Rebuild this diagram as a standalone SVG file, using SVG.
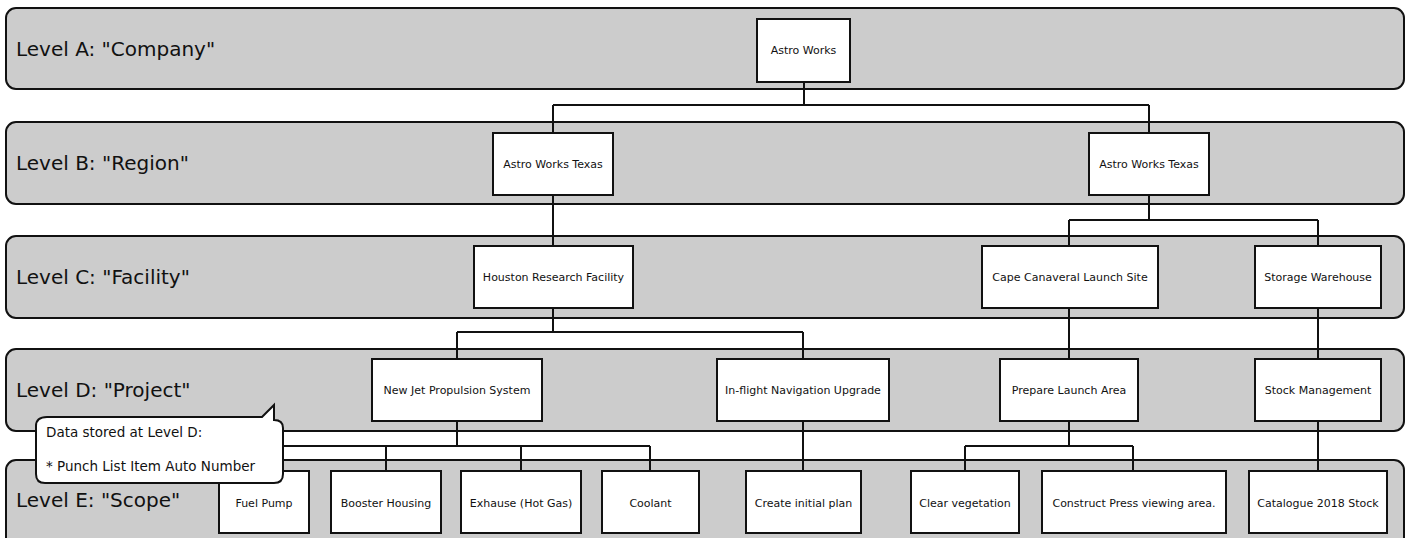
<svg xmlns="http://www.w3.org/2000/svg" width="1409" height="538" viewBox="0 0 1409 538">
<style>
.lane{fill:#cccccc;stroke:#111;stroke-width:2}
.lbl{font-family:"DejaVu Sans","Liberation Sans",sans-serif;font-size:20px;fill:#111}
.box{fill:#fff;stroke:#111;stroke-width:2}
.t{font-family:"DejaVu Sans","Liberation Sans",sans-serif;font-size:11px;fill:#111;text-anchor:middle}
.c{fill:none;stroke:#111;stroke-width:2}
.note{fill:#fff;stroke:#111;stroke-width:2}
.nt{font-family:"DejaVu Sans","Liberation Sans",sans-serif;font-size:13.5px;fill:#111}
</style>
<rect width="1409" height="538" fill="#fff"/>
<g id="lanes">
<rect class="lane" x="6" y="8" width="1398" height="81" rx="10"/>
<rect class="lane" x="6" y="122" width="1398" height="82" rx="10"/>
<rect class="lane" x="6" y="236" width="1398" height="82" rx="10"/>
<rect class="lane" x="6" y="349" width="1398" height="82" rx="10"/>
<rect class="lane" x="6" y="460" width="1398" height="90" rx="10"/>
<text class="lbl" x="16" y="56">Level A: "Company"</text>
<text class="lbl" x="16" y="170">Level B: "Region"</text>
<text class="lbl" x="16" y="284">Level C: "Facility"</text>
<text class="lbl" x="16" y="397">Level D: "Project"</text>
<text class="lbl" x="16" y="507">Level E: "Scope"</text>
</g>
<g id="connectors">
<path class="c" d="M804 82V105M553 105H1149M553 105V133M1149 105V133"/>
<path class="c" d="M553 195V246"/>
<path class="c" d="M1149 195V220M1069 220H1318M1069 220V246M1318 220V246"/>
<path class="c" d="M553 308V332M457 332H803M457 332V359M803 332V359"/>
<path class="c" d="M1069 308V359"/>
<path class="c" d="M1318 308V359"/>
<path class="c" d="M457 421V446M264 446H650M264 446V471M386 446V471M521 446V471M650 446V471"/>
<path class="c" d="M803 421V471"/>
<path class="c" d="M1069 421V446M965 446H1133M965 446V471M1133 446V471"/>
<path class="c" d="M1318 421V471"/>
</g>
<g id="n-astro"><rect class="box" x="757" y="19" width="93" height="63"/><text class="t" x="803.5" y="54">Astro Works</text></g>
<g id="n-awt1"><rect class="box" x="493" y="133" width="120" height="62"/><text class="t" x="553" y="168">Astro Works Texas</text></g>
<g id="n-awt2"><rect class="box" x="1089" y="133" width="120" height="62"/><text class="t" x="1149" y="168">Astro Works Texas</text></g>
<g id="n-houston"><rect class="box" x="474" y="246" width="159" height="62"/><text class="t" x="553.5" y="281">Houston Research Facility</text></g>
<g id="n-cape"><rect class="box" x="982" y="246" width="176" height="62"/><text class="t" x="1070" y="281">Cape Canaveral Launch Site</text></g>
<g id="n-storage"><rect class="box" x="1255" y="246" width="126" height="62"/><text class="t" x="1318" y="281">Storage Warehouse</text></g>
<g id="n-njps"><rect class="box" x="372" y="359" width="170" height="62"/><text class="t" x="457" y="394">New Jet Propulsion System</text></g>
<g id="n-inflight"><rect class="box" x="717" y="359" width="172" height="62"/><text class="t" x="803" y="394">In-flight Navigation Upgrade</text></g>
<g id="n-prepare"><rect class="box" x="1000" y="359" width="138" height="62"/><text class="t" x="1069" y="394">Prepare Launch Area</text></g>
<g id="n-stock"><rect class="box" x="1255" y="359" width="126" height="62"/><text class="t" x="1318" y="394">Stock Management</text></g>
<g id="n-fuel"><rect class="box" x="219" y="471" width="90" height="62"/><text class="t" x="264" y="507">Fuel Pump</text></g>
<g id="n-booster"><rect class="box" x="331" y="471" width="110" height="62"/><text class="t" x="386" y="507">Booster Housing</text></g>
<g id="n-exhause"><rect class="box" x="461" y="471" width="120" height="62"/><text class="t" x="521" y="507">Exhause (Hot Gas)</text></g>
<g id="n-coolant"><rect class="box" x="602" y="471" width="97" height="62"/><text class="t" x="650.5" y="507">Coolant</text></g>
<g id="n-plan"><rect class="box" x="746" y="471" width="115" height="62"/><text class="t" x="803.5" y="507">Create initial plan</text></g>
<g id="n-clear"><rect class="box" x="911" y="471" width="108" height="62"/><text class="t" x="965" y="507">Clear vegetation</text></g>
<g id="n-press"><rect class="box" x="1042" y="471" width="184" height="62"/><text class="t" x="1134" y="507">Construct Press viewing area.</text></g>
<g id="n-catalogue"><rect class="box" x="1249" y="471" width="138" height="62"/><text class="t" x="1318" y="507">Catalogue 2018 Stock</text></g>
<g id="callout">
<path class="note" d="M47 417H262L274 405L274 420Q283 420 283 428V474Q283 483 274 483H45Q36 483 36 474V426Q36 417 47 417Z"/>
<text class="nt" x="46" y="437">Data stored at Level D:</text>
<text class="nt" x="46" y="471">* Punch List Item Auto Number</text>
</g>
</svg>
